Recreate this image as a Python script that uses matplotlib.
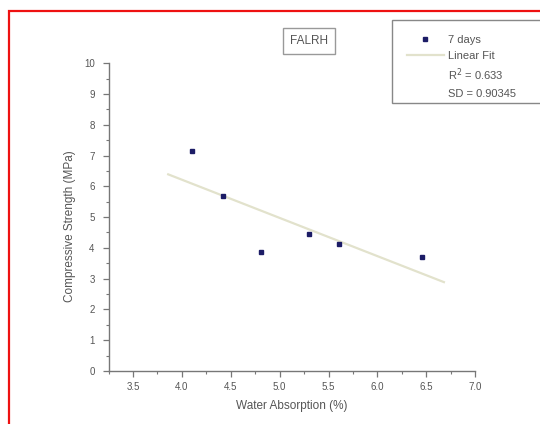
import matplotlib
matplotlib.use("Agg")
import matplotlib.pyplot as plt
import numpy as np
from matplotlib.lines import Line2D
from matplotlib.patches import Rectangle
from matplotlib.ticker import MultipleLocator

# data
water_absorption = [4.10, 4.42, 4.81, 5.30, 5.61, 6.46]
strength_7days = [7.15, 5.69, 3.85, 4.44, 4.14, 3.70]
fit_range = [3.86, 6.68]
r_squared = "0.633"
sd_value = "0.90345"
sample_name = "FALRH"

text_color = "#555555"
axis_color = "#777777"

plt.rcParams["font.family"] = ["Liberation Sans", "DejaVu Sans"]

fig = plt.figure(figsize=(5.4, 4.24), dpi=100)
ax = fig.add_axes([0.201, 0.125, 0.679, 0.726])

slope, intercept = np.polyfit(water_absorption, strength_7days, 1)
fit_x = np.array(fit_range)
fit_line, = ax.plot(fit_x, slope * fit_x + intercept, color="#e2e2cc", lw=1.6, zorder=2)
points, = ax.plot(water_absorption, strength_7days, ls="none", marker="s", ms=3.4,
                  color="#1c1c66", zorder=3)

ax.set_xlim(3.25, 7.0)
ax.set_ylim(0, 10)
ax.xaxis.set_major_locator(MultipleLocator(0.5))
ax.xaxis.set_minor_locator(MultipleLocator(0.25))
ax.yaxis.set_major_locator(MultipleLocator(1))
ax.yaxis.set_minor_locator(MultipleLocator(0.5))
ax.xaxis.set_major_formatter(lambda v, _: f"{v:.1f}")
ax.yaxis.set_major_formatter(lambda v, _: f"{v:.0f}")

for side in ("top", "right"):
    ax.spines[side].set_visible(False)
for side in ("left", "bottom"):
    ax.spines[side].set_color(axis_color)
    ax.spines[side].set_linewidth(1.0)
ax.tick_params(which="major", direction="out", length=4, width=0.9, color=axis_color,
               labelsize=7, labelcolor=text_color, pad=4)
ax.tick_params(axis="y", which="major", pad=6)
ax.tick_params(which="minor", direction="out", length=2.5, width=0.8, color=axis_color)

ax.set_xlabel("Water Absorption (%)", fontsize=8.5, color=text_color, labelpad=6)
ax.set_ylabel("Compressive Strength (MPa)", fontsize=8.5, color=text_color)
ax.yaxis.set_label_coords(-0.089, 0.47)

fig.text(309 / 540, 1 - 41 / 424, sample_name, ha="center", va="center", fontsize=8.5,
         color=text_color,
         bbox=dict(boxstyle="square,pad=0.6", fc="white", ec="#999999", lw=1.0))

# legend box: frame drawn separately (it runs off the right edge like in the reference)
fig.add_artist(Rectangle((392 / 540, 1 - 102.5 / 424), 0.4, 82.5 / 424,
                         transform=fig.transFigure, fc="white", ec="#888888", lw=1.0))
blank = Line2D([], [], ls="none")
leg = fig.legend([points, fit_line, blank, blank],
                 ["7 days", "Linear Fit", f"R$^2$ = {r_squared}", f"SD = {sd_value}"],
                 loc="upper left", bbox_to_anchor=(407 / 540, 1 - 35 / 424),
                 fontsize=8, frameon=False,
                 handlelength=3.3, handletextpad=0.4, borderpad=0, labelspacing=0.52,
                 borderaxespad=0)
for t in leg.get_texts():
    t.set_color(text_color)

# red outer frame seen in the reference
fig.add_artist(Rectangle((9 / 540, -0.1), 1.2, 1 - 11 / 424 + 0.1, transform=fig.transFigure,
                         fill=False, ec="#ee1111", lw=1.6))

fig.savefig("out.png", dpi=100)
